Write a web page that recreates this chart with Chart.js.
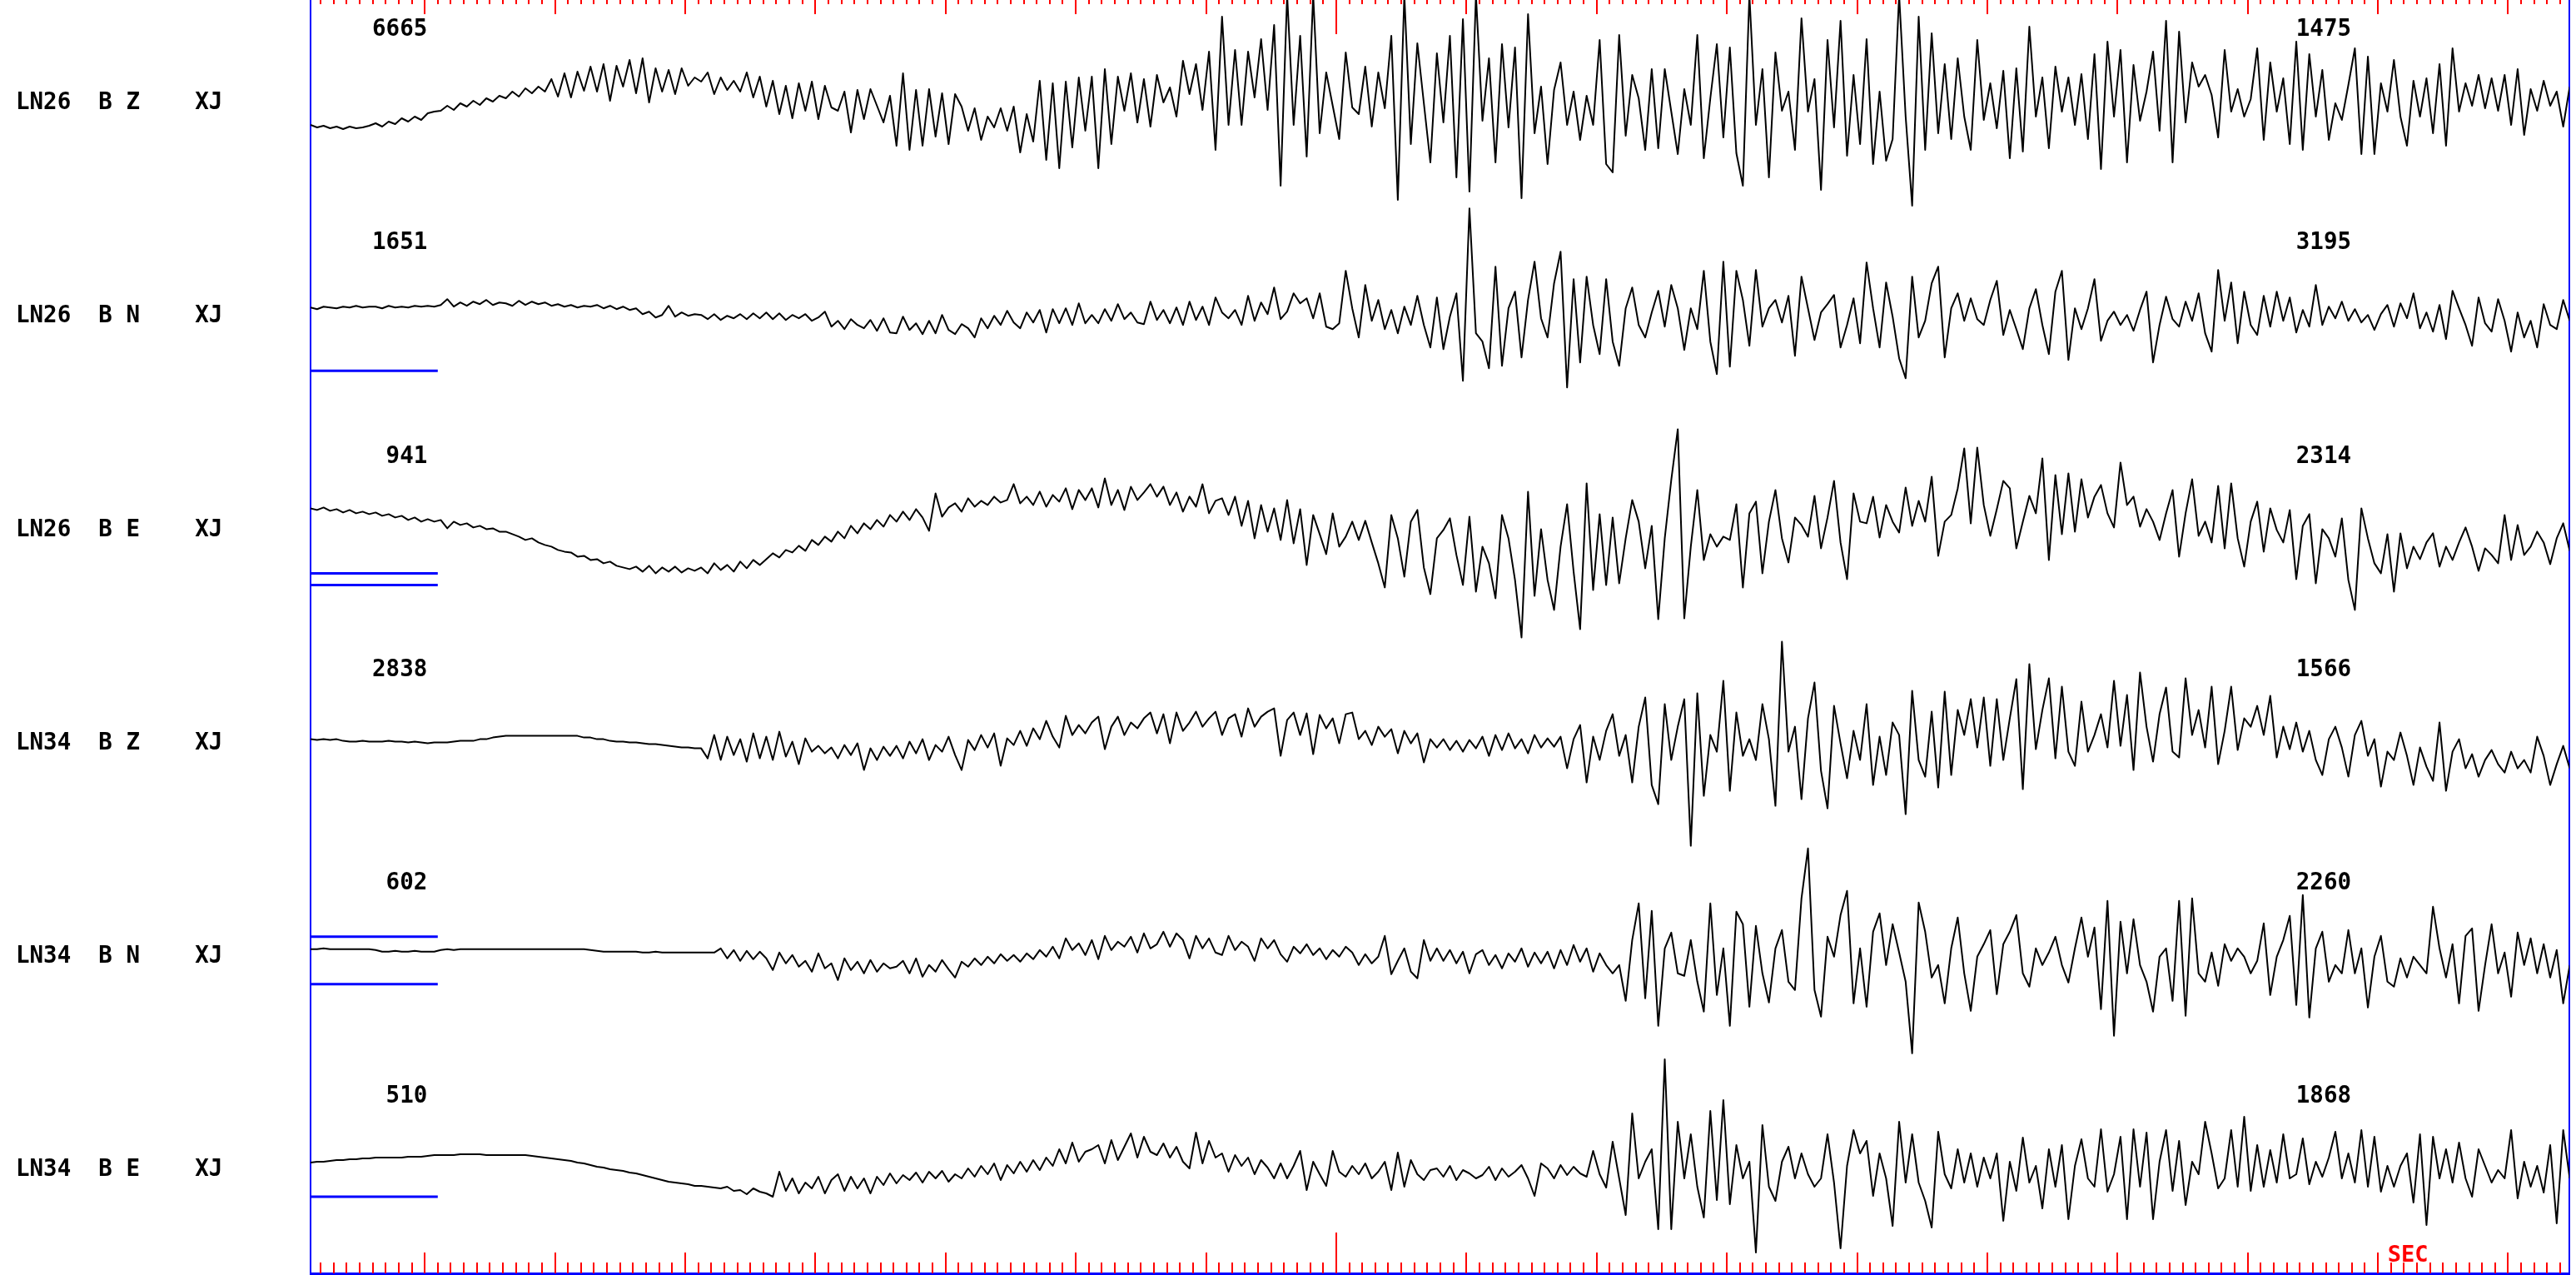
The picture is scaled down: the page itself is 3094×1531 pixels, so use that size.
<!DOCTYPE html>
<html>
<head>
<meta charset="utf-8">
<title>LN26 LN34 XJ</title>
<script src="https://cdn.jsdelivr.net/npm/chart.js@4.4.1/dist/chart.umd.min.js"></script>
<style>
html, body { margin: 0; padding: 0; background: #ffffff; overflow: hidden; }
#box { width: 3094px; height: 1531px; }
</style>
</head>
<body>
<div id="box"><canvas id="seis" width="3094" height="1531"></canvas></div>
<script>
// channel labels, top to bottom
var channels = ['LN26  B Z    XJ', 'LN26  B N    XJ', 'LN26  B E    XJ', 'LN34  B Z    XJ', 'LN34  B N    XJ', 'LN34  B E    XJ'];
// max counts printed above each trace
var countsLeft = ['6665', '1651', '941', '2838', '602', '510'];
var countsRight = ['1475', '3195', '2314', '1566', '2260', '1868'];

// seconds, 0 = long red mark
var tStart = -78.77;
var tEnd = 94.70;
var dt = 0.5;

// samples every dt seconds, screen px above the trace line
var ln26Z = [
 -26,-29,-27,-30,-28,-31,-28,-30,-29,-27,
 -24,-28,-22,-25,-18,-22,-16,-20,-12,-10,
 -9,-3,-8,0,-4,3,-2,6,2,9,
 6,14,8,18,12,20,14,29,8,36,
 7,38,15,44,14,47,3,45,20,52,
 12,54,1,42,14,40,11,42,21,31,
 26,37,11,31,16,27,14,37,7,32,
 -4,27,-13,21,-18,24,-9,26,-19,21,
 -5,-9,14,-35,16,-19,17,-3,-23,9,
 -51,36,-56,16,-51,17,-40,12,-49,11,
 -4,-33,-6,-44,-16,-29,-6,-33,-4,-59,
 -13,-46,27,-68,24,-78,26,-53,31,-33,
 32,-78,41,-49,32,-9,36,-23,29,-28,
 34,1,19,-16,51,11,47,-8,62,-56,
 104,-26,64,-26,62,7,77,-8,94,-99,
 130,-26,81,-64,130,-36,37,-3,-43,61,
 -5,-13,44,-28,37,-6,81,-116,130,-49,72,0,-71,
 60,-23,81,-89,101,-106,130,
 -21,54,-71,71,-29,67,-114,107,-36,20,
 -73,16,49,-26,14,-44,9,-26,76,-73,
 -83,82,-39,34,6,-56,41,-54,41,-10,
 -61,17,-26,82,-66,6,71,-41,67,-60,
 -99,130,-26,41,-89,61,-9,14,-56,102,
 -10,29,-104,76,-29,99,-63,34,-49,77,
 -73,14,-69,-43,130,-16,-123,104,-56,84,
 -36,47,-43,54,-16,-56,76,-20,24,-30,
 39,-66,42,-58,92,-16,31,-54,44,-10,
 31,-26,35,-43,59,-79,74,-16,64,-71,
 46,-21,14,62,-33,99,-71,86,-23,49,
 20,34,10,-41,64,-10,17,-16,5,66,
 -44,49,-10,30,-49,74,-56,59,-16,40,
 -44,0,-20,22,66,-61,56,-61,24,-10,
 52,-16,-51,27,-16,30,-36,47,-51,66,
 -10,24,-3,34,-6,30,-9,34,-26,41,
 -38,17,-9,27,-3,14,-28,20
];
var ln26N = [
 11,9,12,11,10,12,11,13,11,12,
 12,10,13,11,12,11,13,12,13,12,
 14,21,12,17,13,18,15,20,14,17,
 16,13,19,14,18,15,17,13,15,12,
 14,11,13,12,14,10,13,9,12,8,
 10,3,6,-1,2,13,0,5,1,3,
 2,-3,3,-4,1,-2,3,-3,4,-2,
 5,-3,4,-4,2,-2,3,-5,-1,6,
 -12,-5,-15,-3,-10,-14,-4,-17,-2,-19,
 -20,0,-16,-8,-21,-5,-20,2,-16,-21,
 -9,-14,-25,-2,-14,1,-10,7,-7,-14,
 5,-7,8,-19,9,-8,10,-10,16,-8,
 2,-8,9,-5,15,-3,5,-7,-9,18,
 -4,8,-8,11,-10,18,-4,12,-10,23,
 5,-2,8,-10,25,-5,17,3,35,-3,
 6,28,16,22,-2,28,-12,-15,-8,55,
 10,-25,38,-5,20,-15,8,-20,12,-10,25,-10,-37,
 23,-39,0,28,-77,130,-20,
 -30,-62,60,-59,10,30,-49,20,66,-2,
 -25,40,78,-85,45,-55,48,-10,-45,45,
 -30,-59,10,35,-10,-25,5,31,-12,38,
 10,-40,10,-15,55,-30,-69,66,-60,55,
 20,-35,56,-12,10,20,-7,25,-47,48,
 10,-28,5,15,26,-37,-10,22,-32,65,
 10,-37,41,0,-50,-74,48,-25,-5,40,
 60,-49,10,28,-5,22,-3,-10,20,43,
 -22,8,-15,-39,10,33,-10,-45,30,55,
 -52,10,-15,10,45,-29,-5,6,-10,2,
 -17,8,30,-55,-10,24,-3,-12,18,-5,
 28,-20,-42,56,-5,41,-32,30,-10,-22,
 25,-12,30,-5,23,-19,8,-12,38,-10,
 12,-2,18,-5,9,-7,2,-16,3,14,
 -12,16,-2,28,-14,5,-18,14,-27,31,
 10,-10,-35,23,-8,-18,21,-5,-42,5,
 -25,-5,-37,15,-10,-15,20,-5
];
var ln26E = [
 26,24,27,23,25,21,24,20,22,19,
 21,17,19,15,17,12,15,10,13,10,
 12,2,10,6,8,3,5,1,2,-2,
 -2,-5,-8,-12,-10,-15,-18,-20,-24,-26,
 -27,-32,-31,-36,-35,-40,-38,-43,-45,-47,
 -44,-50,-43,-52,-45,-50,-44,-51,-46,-49,
 -45,-52,-40,-48,-42,-50,-38,-46,-36,-42,
 -35,-28,-33,-24,-27,-19,-25,-12,-18,-8,
 -14,-2,-10,5,-4,8,1,12,4,18,
 10,22,12,25,15,-1,44,16,27,32,
 22,38,28,35,30,40,33,36,55,32,
 40,30,46,28,42,34,50,25,48,36,
 50,27,62,30,48,24,52,36,45,55,
 40,52,30,45,22,40,28,55,20,35,
 38,18,40,5,35,-10,30,-2,26,-12,
 36,-16,25,-42,18,-5,-29,20,-20,-8,
 10,-12,11,-15,-40,-69,18,-10,-56,10,24,-45,-77,
 -10,0,14,-30,-66,16,-74,
 -20,-40,-82,18,-10,-60,-129,46,-79,1,
 -60,-96,-20,31,-50,-119,56,-72,19,-66,
 15,-64,-10,36,10,-46,5,-107,-10,60,
 121,-106,-20,48,-36,-5,-20,-8,-12,31,
 -69,20,34,-52,10,48,-10,-39,15,6,
 -8,41,-22,15,59,-15,-59,44,10,8,
 40,-9,30,10,-3,51,5,35,10,64,
 -31,10,18,50,98,8,99,30,-7,25,
 59,50,-22,10,41,20,86,-36,66,-5,
 68,-2,61,15,40,54,20,3,81,30,
 40,4,25,10,-12,20,48,-32,20,61,
 -7,10,-15,53,-22,56,-10,-44,10,34,
 -26,26,0,-15,24,-59,5,19,-64,1,
 -10,-32,14,-60,-96,26,-10,-40,-52,-5,
 -74,-4,-46,-20,-35,-15,-4,-44,-20,-36,
 -15,3,-20,-49,-22,-30,-40,18,-36,6,
 -30,-20,-2,-15,-41,-10,8,-25
];
var ln34Z = [
 5,4,5,4,5,3,2,2,3,2,
 2,2,3,2,2,1,2,1,0,1,
 1,1,2,3,3,3,5,5,7,8,
 9,9,9,9,9,9,9,9,9,9,
 9,9,7,7,5,5,3,2,2,1,
 1,0,-1,-1,-2,-3,-4,-5,-5,-6,
 -6,-18,10,-20,8,-14,5,-22,12,-18,
 8,-20,14,-16,2,-25,6,-10,-3,-12,
 -5,-18,-2,-14,0,-32,-6,-20,-4,-15,
 -3,-18,2,-12,5,-20,-2,-10,8,-14,
 -32,4,-8,10,-5,12,-27,6,-2,15,
 -3,18,5,27,8,-5,33,10,22,12,
 25,32,-7,20,32,10,25,18,30,37,
 12,35,0,37,15,25,38,20,30,38,
 10,30,35,8,42,20,32,38,42,-15,
 28,37,10,36,-13,34,18,30,0,35,
 37,5,15,-2,20,8,17,-12,15,0,12,-23,5,
 -5,5,-8,3,-10,4,-6,
 8,-15,10,-8,12,-6,5,-12,10,-5,
 6,-4,8,-30,5,22,-47,8,-20,15,
 35,-15,10,-47,20,55,-50,-73,47,-20,
 20,53,-123,60,-63,10,-10,75,-57,37,
 -15,5,-20,47,5,-75,122,-10,20,-67,
 30,73,-33,-78,45,0,-42,15,-20,47,
 -50,8,-38,25,10,-85,63,-20,-40,38,
 -53,62,-38,40,10,53,-5,55,-27,53,
 -20,30,77,-55,95,-7,40,78,-18,68,
 -10,-27,50,-10,10,35,-5,75,-3,58,
 -32,85,20,-22,35,67,-10,-17,78,10,
 40,-5,68,-25,15,68,-8,30,20,45,
 10,57,-17,20,-7,25,-10,15,-20,-38,
 5,20,-5,-40,10,27,-15,5,-52,-10,
 -20,13,-15,-50,-5,-28,-45,25,-57,-10,
 5,-30,-13,-40,-20,-8,-25,-35,-10,-30,
 -20,-35,8,-15,-50,-25,-3,-30
];
var ln34N = [
 9,9,10,9,9,9,9,9,9,9,
 8,6,6,7,6,6,7,6,6,6,
 8,9,8,9,9,9,9,9,9,9,
 9,9,9,9,9,9,9,9,9,9,
 9,9,9,8,7,6,6,6,6,6,
 6,5,5,6,5,5,5,5,5,5,
 5,5,5,10,-2,8,-5,7,-3,6,
 -2,-16,5,-8,2,-12,-5,-18,4,-14,
 -8,-28,-2,-16,-6,-20,-4,-18,-8,-14,
 -12,-5,-20,-2,-24,-10,-18,-4,-15,-25,
 -6,-12,-2,-10,0,-8,3,-5,2,-6,
 4,-3,8,0,12,-2,22,8,16,2,
 20,-3,25,8,18,12,24,5,28,10,
 15,30,12,28,20,-2,25,10,22,5,
 2,25,8,18,12,-5,22,10,20,3,
 -6,12,4,15,2,10,-3,8,0,12,
 5,-10,3,-8,0,25,-21,-5,10,-18,-26,20,-5,
 10,-5,8,-8,6,-20,3,
 8,-10,2,-14,4,-6,10,-12,5,-8,
 6,-14,8,-10,14,-6,10,-18,4,-10,
 -20,-10,-53,20,64,-50,55,-83,10,29,
 -20,-23,20,-30,-66,64,-46,10,-83,54,
 39,-60,37,-20,-55,10,32,-30,-40,70,
 130,-40,-72,24,0,50,79,-56,10,-60,
 30,52,-10,39,5,-30,-116,65,30,-25,
 -10,-56,10,47,-20,-65,0,15,32,-45,
 15,30,50,-20,-36,10,-10,5,24,-10,
 -31,10,47,0,35,-63,67,-95,42,-20,
 45,-10,-30,-66,0,10,-53,67,-71,70,
 -20,-30,5,-35,15,-5,10,0,-20,-5,
 40,-46,0,20,49,-58,74,-73,10,30,
 -30,-10,-20,32,-20,10,-61,0,25,-30,
 -36,-2,-25,0,-10,-20,60,10,-25,15,
 -56,25,34,-65,-10,39,-20,5,-48,29,
 -10,22,-20,15,-25,8,-56,-10
];
var ln34E = [
 9,10,10,11,12,12,13,13,14,14,
 15,15,15,15,15,16,16,16,17,18,
 18,18,18,19,19,19,19,18,18,18,
 18,18,18,18,17,16,15,14,13,12,
 11,9,8,6,4,3,1,0,-1,-3,
 -4,-6,-8,-10,-12,-14,-15,-16,-17,-19,
 -19,-20,-21,-22,-20,-25,-24,-29,-22,-26,
 -28,-32,-2,-25,-10,-28,-15,-22,-8,-28,
 -12,-5,-25,-8,-22,-10,-28,-8,-18,-4,
 -16,-6,-12,-3,-15,-2,-10,-1,-14,-5,
 -10,2,-8,5,-5,8,-12,6,-4,10,
 -2,12,0,15,5,25,8,33,10,22,
 25,30,8,36,12,28,44,15,40,22,
 18,32,15,28,10,2,45,8,35,15,
 20,-2,18,5,15,-5,12,3,-10,8,
 -10,5,23,-24,10,-5,-19,23,-2,-8,
 5,-5,8,-10,-2,10,-24,21,-20,12,-5,-12,0,
 2,-8,5,-12,0,-4,-10,
 -6,4,-12,2,-8,-2,6,-10,-31,8,
 2,-10,6,-6,4,-4,-8,23,-5,-21,
 34,-10,-54,68,-10,10,25,-71,133,-71,
 58,-10,43,-20,-57,71,-36,84,-41,30,
 -10,10,-99,54,-20,-37,10,28,-10,20,
 -5,-20,-10,43,-15,-94,5,48,20,35,
 -31,20,-10,-67,58,-15,43,-15,-37,-69,
 46,-5,-22,25,-15,20,-20,15,-10,20,
 -61,10,-25,39,-15,5,-46,25,-20,30,
 -59,5,37,-10,-20,49,-26,-5,40,-59,
 49,-20,45,-59,10,48,-25,35,-42,10,
 -5,58,20,-22,-10,48,-20,64,-25,30,
 -20,24,-15,43,-10,-5,38,-17,10,-8,
 15,46,-10,20,-15,48,-20,40,-26,5,
 -20,5,20,-39,43,-66,40,-10,25,-15,
 33,-10,-32,25,5,-15,0,-10,48,-34,
 10,-20,5,-27,30,-64,48,-10
];

// blue scale bars: [trace, level]
var scaleBars = [[1, -65], [2, -52], [2, -66], [4, 24], [4, -33], [5, -32]];
var scaleBarEnd = -69;

var GAP = 256.2;
var traces = [ln26Z, ln26N, ln26E, ln34Z, ln34N, ln34E];
var monoFamily = '"DejaVu Sans Mono", "Liberation Mono", monospace';

function buildDatasets() {
    var sets = [];
    traces.forEach(function (vals, k) {
        sets.push({
            data: vals.map(function (v, i) { return { x: tStart + i * dt, y: v - GAP * k }; }),
            borderColor: '#000000',
            borderWidth: 2,
            borderJoinStyle: 'round',
            pointRadius: 0,
            tension: 0,
            fill: false
        });
    });
    scaleBars.forEach(function (b) {
        var y = b[1] - GAP * b[0];
        sets.push({
            data: [{ x: tStart, y: y }, { x: scaleBarEnd, y: y }],
            borderColor: '#0000ff',
            borderWidth: 3,
            pointRadius: 0,
            fill: false
        });
    });
    return sets;
}

var seisMarks = {
    id: 'seisMarks',
    beforeDatasetsDraw: function (chart) {
        var ctx = chart.ctx;
        var xs = chart.scales.x;
        var area = chart.chartArea;
        var topLine = area.top - 8;
        ctx.save();
        ctx.strokeStyle = '#ff0000';
        ctx.lineWidth = 2;
        ctx.beginPath();
        for (var s = Math.ceil(xs.min); s <= Math.floor(xs.max); s++) {
            var px = Math.round(xs.getPixelForValue(s));
            var len = s === 0 ? 49 : (s % 10 === 0 ? 25 : 13);
            ctx.moveTo(px, area.bottom);
            ctx.lineTo(px, area.bottom - len);
            ctx.moveTo(px, topLine);
            ctx.lineTo(px, topLine + len);
        }
        ctx.stroke();
        ctx.restore();
    },
    afterDraw: function (chart) {
        var ctx = chart.ctx;
        var xs = chart.scales.x, ys = chart.scales.y;
        ctx.save();
        ctx.font = 'bold 27.5px ' + monoFamily;
        ctx.fillStyle = '#000000';
        ctx.textAlign = 'right';
        ctx.textBaseline = 'middle';
        for (var k = 0; k < channels.length; k++) {
            var y = ys.getPixelForValue(88 - GAP * k);
            ctx.fillText(countsLeft[k], xs.getPixelForValue(-69.8), y);
            ctx.fillText(countsRight[k], xs.getPixelForValue(77.95), y);
        }
        ctx.fillStyle = '#ff0000';
        ctx.textAlign = 'left';
        ctx.font = 'bold 27px ' + monoFamily;
        ctx.fillText('SEC', xs.getPixelForValue(80.75), chart.chartArea.bottom - 21);
        ctx.restore();
    }
};

function drawSeismogram() {
    new Chart(document.getElementById('seis'), {
        type: 'line',
        data: { datasets: buildDatasets() },
        plugins: [seisMarks],
        options: {
            responsive: false,
            animation: false,
            devicePixelRatio: 1,
            events: [],
            layout: { padding: { left: 19, right: 0, top: 0, bottom: 0 } },
            plugins: { legend: { display: false }, tooltip: { enabled: false } },
            scales: {
                x: {
                    type: 'linear',
                    position: 'bottom',
                    min: tStart,
                    max: tEnd,
                    grid: { display: true, drawOnChartArea: false, drawTicks: false },
                    ticks: { display: false },
                    border: { display: true, color: '#0000ff', width: 3 },
                    afterFit: function (s) { s.height = 2; s.paddingLeft = 0; s.paddingRight = 0; }
                },
                y: {
                    position: 'left',
                    min: 124 - 1529,
                    max: 124,
                    grid: { display: true, drawOnChartArea: false, drawTicks: false },
                    border: { display: true, color: '#0000ff', width: 2 },
                    afterBuildTicks: function (s) {
                        s.ticks = channels.map(function (c, k) { return { value: -GAP * k }; });
                    },
                    ticks: {
                        autoSkip: false,
                        crossAlign: 'far',
                        padding: 0,
                        color: '#000000',
                        font: { family: monoFamily, size: 27.5, weight: 'bold' },
                        callback: function (v, idx) { return channels[idx]; }
                    },
                    afterFit: function (s) { s.width = 354; s.paddingTop = 0; s.paddingBottom = 0; }
                },
                yr: {
                    position: 'right',
                    min: 124 - 1529,
                    max: 124,
                    grid: { display: true, drawOnChartArea: false, drawTicks: false },
                    ticks: { display: false },
                    border: { display: true, color: '#0000ff', width: 2 },
                    afterFit: function (s) { s.width = 8; s.paddingTop = 0; s.paddingBottom = 0; }
                }
            }
        }
    });
}

drawSeismogram();
</script>
</body>
</html>
